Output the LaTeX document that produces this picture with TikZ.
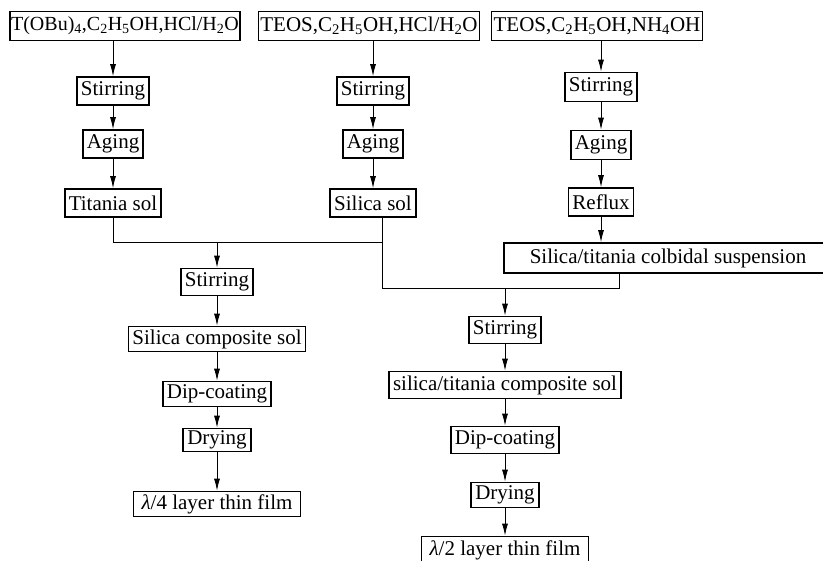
\documentclass[tikz,border=0pt]{standalone}
\usepackage{fontspec}
\setmainfont{Liberation Serif}
\usetikzlibrary{arrows.meta}
\begin{document}
\begin{tikzpicture}[x=1pt,y=-1pt,
  box/.style={draw,line width=1.6pt,inner xsep=4pt,inner ysep=1pt,
    minimum height=27pt,font=\fontsize{21}{25}\selectfont},
  flow/.style={-{Latex[length=12pt,width=6pt]},line width=0.9pt},
  link/.style={line width=0.9pt}]
  \useasboundingbox (0,0) rectangle (823,561);
  % starting solutions
  \node[box,inner xsep=1pt,minimum height=29pt,font=\fontsize{20}{24}\selectfont] (tbu) at (125,26)
    {T(OBu)\textsubscript{4},C\textsubscript{2}H\textsubscript{5}OH,HCl/H\textsubscript{2}O};
  \node[box,inner xsep=2pt,minimum height=29pt] (teos1) at (369,26)
    {TEOS,C\textsubscript{2}H\textsubscript{5}OH,HCl/H\textsubscript{2}O};
  \node[box,inner xsep=2pt,minimum height=29pt] (teos2) at (597,26)
    {TEOS,C\textsubscript{2}H\textsubscript{5}OH,NH\textsubscript{4}OH};

  % three sol routes
  \node[box,minimum height=28pt] (stir1) at (113,91) {Stirring};
  \node[box,minimum height=28pt] (age1) at (113,144) {Aging};
  \node[box,minimum height=28pt] (tsol) at (113,203) {Titania sol};
  \node[box,minimum height=28pt] (stir2) at (373,91) {Stirring};
  \node[box,minimum height=28pt] (age2) at (373,144) {Aging};
  \node[box,minimum height=28pt] (ssol) at (373,203) {Silica sol};
  \node[box,minimum height=29pt] (stir3) at (601,87) {Stirring};
  \node[box,minimum height=29pt] (age3) at (601,145) {Aging};
  \node[box,minimum height=28pt] (reflux) at (601,202) {Reflux};
  \node[box,inner xsep=26pt,minimum height=30pt] (susp) at (668,258) {Silica/titania colbidal suspension};

  % lambda/4 route
  \node[box] (stir4) at (217,282) {Stirring};
  \node[box,minimum height=25pt] (comp1) at (217,339) {Silica composite sol};
  \node[box,minimum height=25pt] (dip1) at (217,394) {Dip-coating};
  \node[box,minimum height=23pt] (dry1) at (217,440) {Drying};
  \node[box,inner xsep=8pt,minimum height=25pt] (film1) at (217,504) {\textit{λ}/4 layer thin film};

  % lambda/2 route
  \node[box] (stir5) at (505,330) {Stirring};
  \node[box] (comp2) at (505,385) {silica/titania composite sol};
  \node[box] (dip2) at (505,440) {Dip-coating};
  \node[box,minimum height=25pt] (dry2) at (505,495) {Drying};
  \node[box,inner xsep=8pt] (film2) at (505,550) {\textit{λ}/2 layer thin film};

  \draw[flow] (stir1 |- tbu.south) -- (stir1);
  \draw[flow] (stir2 |- teos1.south) -- (stir2);
  \draw[flow] (stir3 |- teos2.south) -- (stir3);
  \foreach \a/\b in {stir1/age1,age1/tsol,stir2/age2,age2/ssol,stir3/age3,age3/reflux,
    stir4/comp1,comp1/dip1,dip1/dry1,dry1/film1,
    stir5/comp2,comp2/dip2,dip2/dry2,dry2/film2}
    \draw[flow] (\a) -- (\b);
  \draw[flow] (reflux) -- (susp.north -| reflux);

  % merging lines
  \coordinate (m1) at (382,242);
  \coordinate (m2) at (382,288);
  \coordinate (m3) at (619,288);
  \draw[link] (tsol) -- (tsol |- m1) -- (m1);
  \draw[link] (ssol.south -| m1) -- (m2) -- (m3) -- (susp.south -| m3);
  \draw[flow] (stir4 |- m1) -- (stir4);
  \draw[flow] (stir5 |- m2) -- (stir5);
\end{tikzpicture}
\end{document}
